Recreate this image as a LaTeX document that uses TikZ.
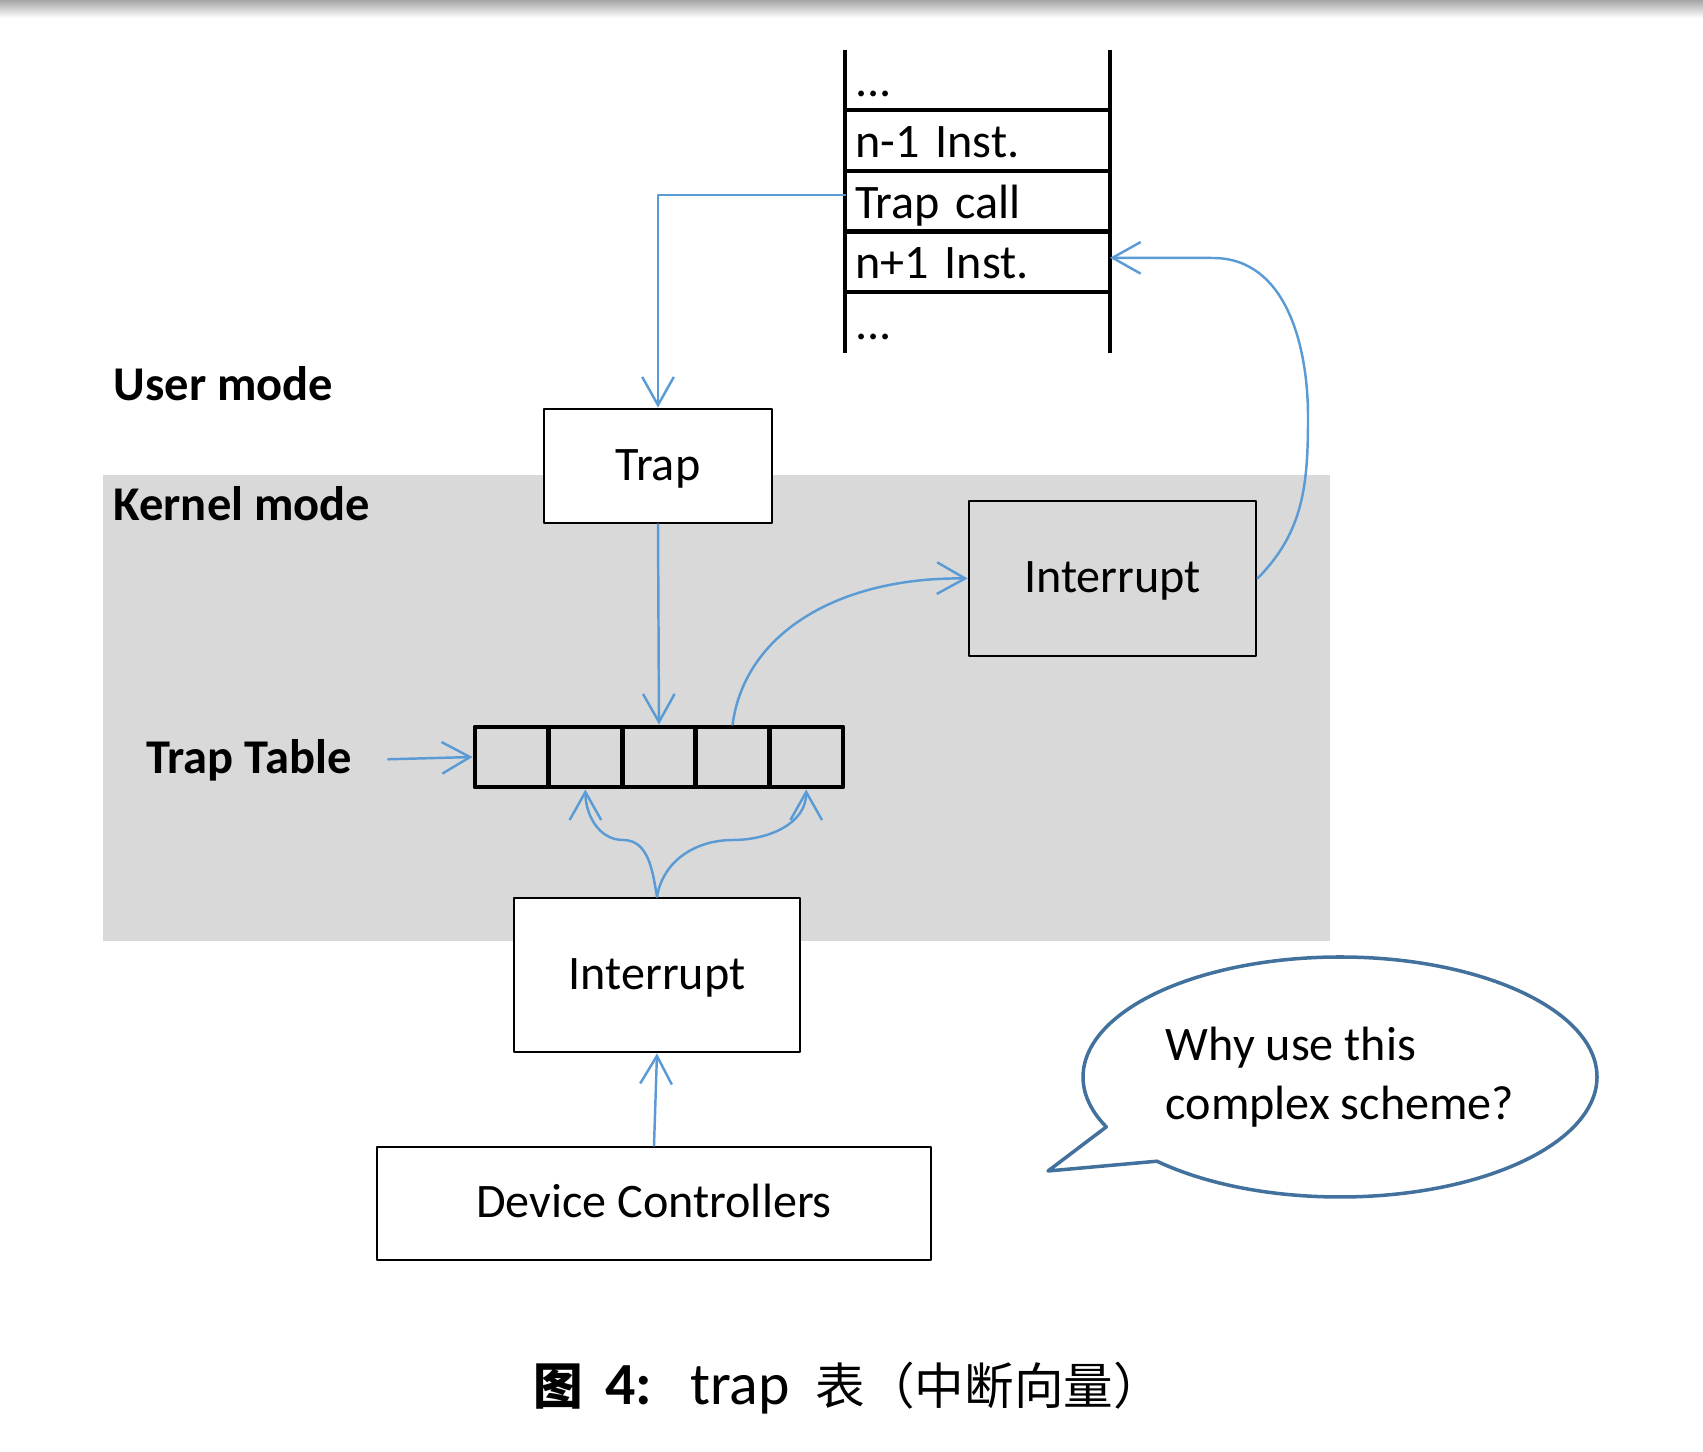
\documentclass[tikz,border=0pt]{standalone}
\usepackage{fontspec}
\setmainfont{Carlito}
\newfontfamily\cjk[Scale=0.83]{Noto Sans CJK SC}
\usetikzlibrary{arrows.meta, positioning, shapes.callouts}
\definecolor{kernelgray}{RGB}{217,217,217}
\definecolor{flowblue}{RGB}{91,155,213}
\definecolor{bubbleblue}{RGB}{65,113,156}

\begin{document}
\begin{tikzpicture}[>={Straight Barb[length=8pt,width=9pt]},
    line cap=round, line join=round,
    every node/.style={font=\fontsize{13.7}{17.6}\selectfont},
    box/.style={draw, line width=0.8pt, inner sep=0pt, text height=0.35cm,
                text depth=0.06cm},
    instr/.style={minimum width=2.65cm, minimum height=0.606cm, inner sep=0pt,
                  outer sep=0pt, text width=2.45cm, text height=0.34cm,
                  text depth=0pt, align=left},
    stackline/.style={line width=1.2pt, line cap=butt},
    cell/.style={draw, line width=1.4pt, minimum width=0.736cm,
                 minimum height=0.60cm, inner sep=0pt},
    lbl/.style={font=\fontsize{13.8}{17}\selectfont\bfseries, inner sep=0pt,
                anchor=base west},
    flow/.style={draw=flowblue, line width=0.7pt}]
  \useasboundingbox (0,0) rectangle (17.03,14.52);

  % shadow strip along the top edge
  \shade[top color=gray!70, bottom color=white] (0,14.34) rectangle (17.03,14.52);

  % kernel mode area
  \fill[kernelgray] (1.03,5.11) rectangle (13.30,9.77);

  % ---- Instruction stack ----
  \node[instr] (row1) at (9.775,13.72) {...};
  \node[instr, below=0pt of row1] (row2) {n-1 Inst.};
  \node[instr, below=0pt of row2] (row3) {Trap call};
  \node[instr, below=0pt of row3] (row4) {n+1 Inst.};
  \node[instr, below=0pt of row4] (row5) {...};
  \draw[stackline] (row1.north west) -- (row5.south west);
  \draw[stackline] (row1.north east) -- (row5.south east);
  \foreach \r in {1,...,4}
    \draw[stackline] (row\r.south west) -- (row\r.south east);

  % ---- Boxes ----
  \node[box, fill=white, minimum width=2.28cm, minimum height=1.14cm] (trap) at (6.58,9.86) {Trap};
  \node[box, minimum width=2.87cm, minimum height=1.55cm] (int1) at (11.125,8.735) {Interrupt};
  \node[box, fill=white, minimum width=2.86cm, minimum height=1.54cm] (int2) at (6.57,4.77) {Interrupt};
  \node[box, fill=white, minimum width=5.54cm, minimum height=1.13cm] (dev) at (6.54,2.485) {Device Controllers};

  % trap table, five cells
  \foreach \i in {1,...,5}
    \node[cell] (c\i) at ({4.75+0.736*(\i-0.5)},6.95) {};

  % ---- Mode labels ----
  \node[lbl] (user)   at (1.13,10.51)  {User mode};
  \node[lbl] (kernel) at (1.13,9.31)   {Kernel mode};
  \node[lbl] (tt)     at (1.455,6.785) {Trap Table};

  % ---- Connectors ----
  \draw[flow, ->] ([yshift=0.06cm]row3.west) -| (trap.north);
  \draw[flow, ->] (trap.south) -- (c3.north);
  \draw[flow, ->] (c4.north) .. controls (7.45,8.2) and (8.4,8.75) .. (int1.west);
  \draw[flow, ->] (int1.east) to[out=45,in=-90] (13.08,10.35)
                  to[out=90,in=0] (12.13,11.94) -- ([yshift=0.04cm]row4.east);
  \draw[flow, ->] (int2.north) to[out=100,in=0] (6.23,6.12)
                  to[out=180,in=-90] (c2.south);
  \draw[flow, ->] (int2.north) to[out=80,in=180] (7.33,6.12)
                  to[out=0,in=-90] (c5.south);
  \draw[flow, ->] (dev.north) -- (int2.south);
  \draw[flow, ->, shorten <=0.36cm] (tt.east) -- (c1.west);

  % ---- Speech bubble ----
  \node[ellipse callout, draw=bubbleblue, line width=1pt, fill=white,
        minimum width=5.14cm, minimum height=2.40cm, inner sep=0pt, align=left,
        callout pointer arc=20,
        callout absolute pointer={(10.48,2.81)}] (why) at (13.40,3.75)
        {\raisebox{-0.03cm}{Why use this}\\complex scheme?};

  % ---- Caption ----
  \node[font=\fontsize{17}{20}\selectfont, anchor=west, inner sep=0pt] (cap) at (5.33,0.64)
        {{\cjk\bfseries 图}\hspace{0.22cm}{\bfseries 4:}\hspace{0.38cm}trap\hspace{0.26cm}{\cjk 表（中断向量）}};
\end{tikzpicture}
\end{document}
